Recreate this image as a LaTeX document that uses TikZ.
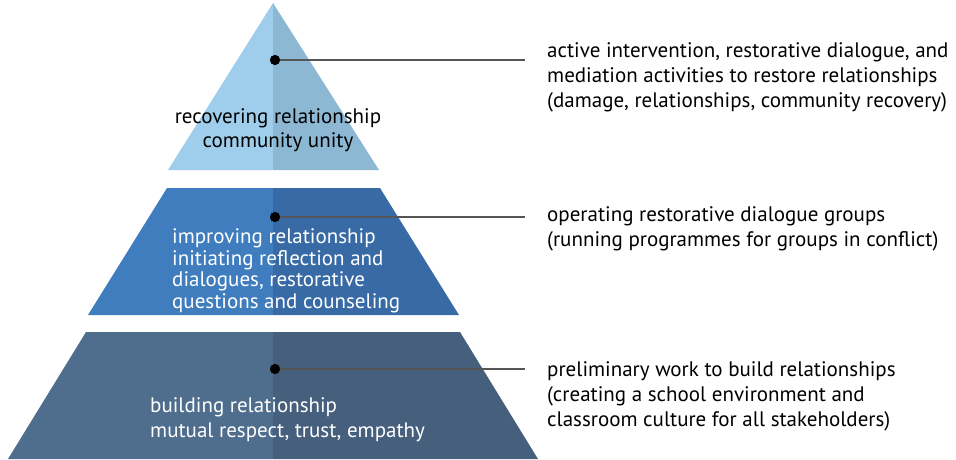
\documentclass[tikz,border=0pt]{standalone}
\usepackage{fontspec}
\setmainfont{PT Sans}
\definecolor{topL}{HTML}{9ECEEC}
\definecolor{topR}{HTML}{8CB8D4}
\definecolor{midL}{HTML}{3F7DBE}
\definecolor{midR}{HTML}{386BA6}
\definecolor{botL}{HTML}{4F6D8D}
\definecolor{botR}{HTML}{465F7D}
\definecolor{linec}{HTML}{555555}
\begin{document}
\begin{tikzpicture}[x=1pt,y=-1pt,
  dot/.style={circle,fill=black,inner sep=0pt,minimum size=10pt},
  conn/.style={draw=linec,line width=1.3pt},
  desc/.style={anchor=north west,inner sep=0pt,align=left,font=\fontsize{21}{25}\selectfont},
  inner/.style={inner sep=0pt,font=\fontsize{21}{21.5}\selectfont}]
\useasboundingbox (0,0) rectangle (956,459);
% top triangle
\fill[topL] (273,3) -- (168,170) -- (273,170) -- cycle;
\fill[topR] (273,3) -- (379,170) -- (273,170) -- cycle;
% middle trapezoid
\fill[midL] (167,188) -- (273,188) -- (273,315) -- (88,315) -- cycle;
\fill[midR] (273,188) -- (380,188) -- (459,315) -- (273,315) -- cycle;
% bottom trapezoid
\fill[botL] (86,332) -- (273,332) -- (273,459) -- (8,459) -- cycle;
\fill[botR] (273,332) -- (460,332) -- (538,459) -- (273,459) -- cycle;
% inner texts
\node[inner,align=center,text=black,anchor=north,font=\fontsize{21}{24}\selectfont] (t1) at (278,108.5) {recovering relationship\\community unity};
\node[inner,align=left,text=white,anchor=north west] (t2) at (172,228.5) {improving relationship\\initiating reflection and\\dialogues, restorative\\questions and counseling};
\node[inner,align=left,text=white,anchor=north west,font=\fontsize{21}{25}\selectfont] (t3) at (150,397) {building relationship\\mutual respect, trust, empathy};
% dots and connectors
\node[dot] (d1) at (275,60) {};
\node[dot] (d2) at (275,217) {};
\node[dot] (d3) at (275,369) {};
\coordinate (e1) at (525,60);
\coordinate (e2) at (525,217);
\coordinate (e3) at (525,369);
\draw[conn] (d1.center) -- (e1);
\draw[conn] (d2.center) -- (e2);
\draw[conn] (d3.center) -- (e3);
\node[dot] at (d1) {};
\node[dot] at (d2) {};
\node[dot] at (d3) {};
% descriptions
\node[desc] (r1) at (547,42.5) {active intervention, restorative dialogue, and\\mediation activities to restore relationships\\(damage, relationships, community recovery)};
\node[desc] (r2) at (547,206.5) {operating restorative dialogue groups\\(running programmes for groups in conflict)};
\node[desc] (r3) at (547,361.5) {preliminary work to build relationships\\(creating a school environment and\\classroom culture for all stakeholders)};
\end{tikzpicture}
\end{document}
